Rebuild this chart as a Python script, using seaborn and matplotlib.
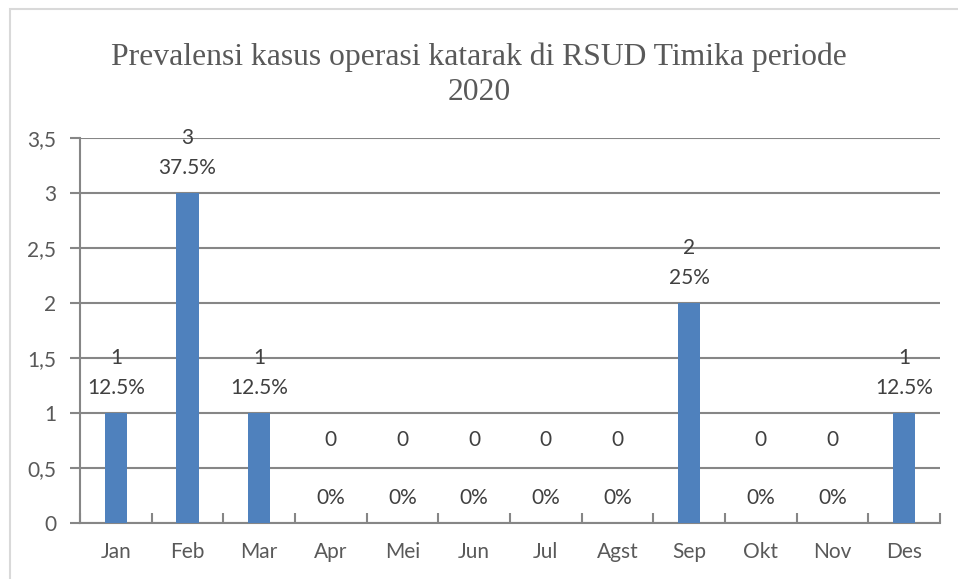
import matplotlib
matplotlib.use("Agg")
import matplotlib.pyplot as plt
import seaborn as sns
import pandas as pd
from matplotlib.patches import Rectangle

months = ["Jan", "Feb", "Mar", "Apr", "Mei", "Jun", "Jul", "Agst", "Sep", "Okt", "Nov", "Des"]
counts = [1, 3, 1, 0, 0, 0, 0, 0, 2, 0, 0, 1]
percents = ["12.5%", "37.5%", "12.5%", "0%", "0%", "0%", "0%", "0%", "25%", "0%", "0%", "12.5%"]
yticks = [0, 0.5, 1, 1.5, 2, 2.5, 3, 3.5]
ytick_labels = ["0", "0,5", "1", "1,5", "2", "2,5", "3", "3,5"]
title = "Prevalensi kasus operasi katarak di RSUD Timika periode\n2020"

df = pd.DataFrame({"month": months, "count": counts})

sns.set_style("white")
plt.rcParams["font.family"] = ["Lato", "DejaVu Sans"]

W, H = 958, 579
fig = plt.figure(figsize=(W / 100, H / 100), dpi=100)
fig.patches.append(Rectangle((10 / W, -0.05), 1.2, (H - 9) / H + 0.05, transform=fig.transFigure,
                             fill=False, edgecolor="#d9d9d9", linewidth=1.5))
ax = fig.add_axes([80 / W, (H - 523) / H, 860 / W, (523 - 138) / H])

sns.barplot(data=df, x="month", y="count", color="#4F81BD", width=0.31, ax=ax,
            saturation=1, zorder=3, linewidth=0)

ax.set_xlim(-0.5, 11.5)
ax.set_ylim(0, 3.5)
ax.set_yticks(yticks)
ax.set_yticklabels(ytick_labels)
ax.set_xlabel("")
ax.set_ylabel("")
ax.yaxis.grid(True, color="#868686", linewidth=1.5, zorder=0)
ax.set_axisbelow(True)
for s in ["top", "right"]:
    ax.spines[s].set_visible(False)
for s in ["left", "bottom"]:
    ax.spines[s].set_color("#868686")
    ax.spines[s].set_linewidth(1.5)

FS = 15
ax.tick_params(axis="y", which="major", direction="out", length=7, width=1.5, color="#868686",
               labelsize=FS, labelcolor="#595959", pad=10, left=True)
ax.tick_params(axis="x", which="major", length=0, labelsize=FS, labelcolor="#595959", pad=14)
ax.set_xticks([i - 0.5 for i in range(13)], minor=True)
ax.tick_params(axis="x", which="minor", direction="in", length=7, width=1.5, color="#868686", bottom=True)

for i, (c, p) in enumerate(zip(counts, percents)):
    cy = c + (0.5 if c > 0 else 0.75)
    py = c + 0.23
    ax.text(i, cy, str(c), ha="center", va="center", fontsize=FS, color="#404040", zorder=5)
    ax.text(i, py, p, ha="center", va="center", fontsize=FS, color="#404040", zorder=5)

fig.text(0.5, 1 - 75 / H, title, ha="center", va="center", fontsize=22.8,
         family=["Liberation Serif", "DejaVu Serif"], color="#595959", linespacing=1.25)

fig.savefig("out.png", dpi=100, facecolor="white")
